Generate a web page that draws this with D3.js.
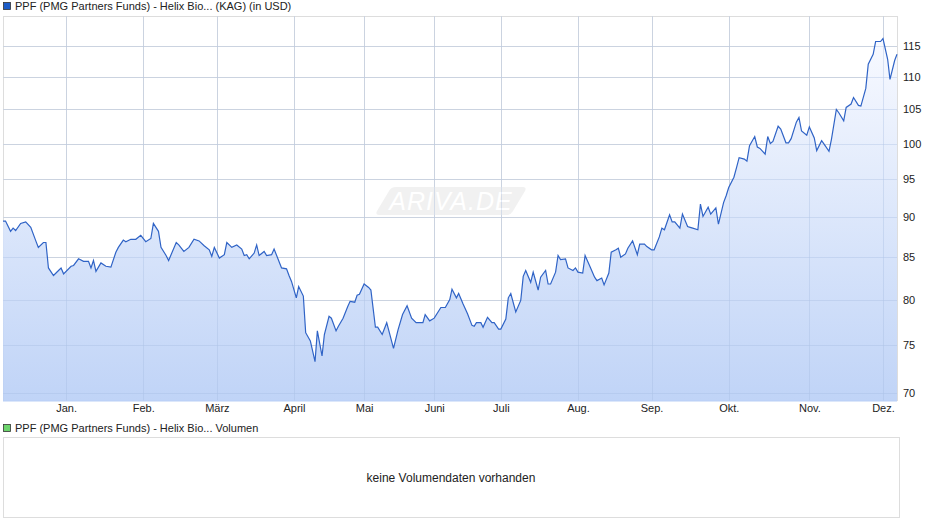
<!DOCTYPE html>
<html><head><meta charset="utf-8">
<script src="https://cdn.jsdelivr.net/npm/d3@7"></script>
<style>body{margin:0;background:#fff}svg{font-family:Arial,"Liberation Sans",sans-serif}</style>
</head><body><svg id="c" width="940" height="526"></svg>
<script>
// day offsets from 2024-01-01 of each price record
const dayOffsets=[-25,-24,-22,-21,-20,-18,-16,-14,-12,-11,-9,-8,-7,-5,-3,-2,-1,
2,3,5,7,9,10,11,12,14,16,18,20,21,23,24,26,28,30,
32,34,35,37,38,40,41,44,45,47,49,51,53,55,57,58,59,
61,63,64,66,68,70,71,72,73,75,76,77,79,80,82,83,86,88,89,90,
92,93,95,96,98,100,101,103,104,106,107,109,110,112,114,115,117,118,119,
121,123,124,126,127,129,131,134,136,138,140,142,144,147,148,150,
152,154,155,157,159,160,162,163,165,167,169,170,171,173,174,176,178,179,181,
182,184,185,186,188,190,191,192,194,195,197,198,200,201,202,204,205,206,208,209,211,212,
213,215,216,218,220,221,223,224,226,227,229,230,231,233,234,236,238,239,241,242,
244,245,247,248,249,251,252,253,255,256,258,259,260,262,263,264,266,267,269,270,272,273,
274,276,277,278,280,281,282,284,285,286,288,289,290,291,293,294,296,297,298,300,301,302,304,
305,307,308,310,311,313,314,316,317,319,320,322,323,325,326,328,329,331,332,334,
335,337,338,340,341];
const prices=[89.5,89.5,88.2,88.6,88.3,89.2,89.4,88.7,87,86.2,86.8,86.8,83.7,82.8,83.4,83.7,83,83.9,84,84.8,84.5,84.5,83.7,84.6,83.3,84.3,83.9,83.8,85.6,86.2,87.1,86.9,87.2,87.2,87.7,86.9,87.3,89.2,88.2,86.2,85.2,84.6,86.8,86.5,85.7,86.2,87.2,87,86.4,85.9,85.1,86.2,84.9,85.3,86.8,86.2,86.5,86,85.2,85.3,84.8,85.5,86.5,85.2,85.7,85.2,85.3,86,83.7,83.6,82.8,82.1,80.2,81.5,80.4,76.3,75.4,73.2,76.5,73.8,76.1,78.1,77.9,76.5,77,77.9,79.2,79.8,79.7,80.5,80.6,81.8,81.4,81.1,76.9,76.9,76.1,77.4,74.6,76.6,78.3,79.3,77.9,77.4,77.4,78.3,77.6,77.9,78.7,79.1,79.1,80,81.2,80.2,80.7,79.5,78.4,77.1,
77,77.4,77.4,76.9,78,77.4,77.4,76.7,76.7,77.8,80.2,80.7,78.6,79.9,82.7,83.4,82,83.2,81.1,82.6,83.4,81.8,81.8,83.2,85.2,84.7,84.8,83.7,83.4,83.7,83.2,83.1,85.2,83.9,82.6,82.2,82.5,81.7,83.1,85.6,85.9,86.1,85,85.4,86.1,87,85.3,86.6,86.6,86.3,85.9,85.9,87.5,88.6,88.4,90.3,89.4,89.4,88.6,90.4,88.8,88.7,88.6,88.4,91.7,90.1,91.3,90.4,91.2,89.1,91.9,92.8,93.9,95.3,96.6,98,97.8,97.5,99.7,101,99.5,99.3,98.5,101,100,100.3,102.5,102.1,100.1,100.1,100.7,103.1,103.8,101.8,101.2,102.4,100.8,99,100.4,99.9,98.9,100.6,105,104.5,103.3,105.3,105.8,106.8,105.6,105.5,108.2,112,113.6,115.7,115.7,116.2,112.8,109.6,112.6,113.6];
// trading records per calendar month shown (Dec 2023 ... Dec 2024) - the chart spaces by records
const recordsPerMonth=[18,22,21,22,20,20,19,22,21,22,23,21,4];
const yTicks=[70,75,80,85,90,95,100,105,110,115];
const monthLabels=["Jan.","Feb.","März","April","Mai","Juni","Juli","Aug.","Sep.","Okt.","Nov.","Dez."];
const title1="PPF (PMG Partners Funds) - Helix Bio... (KAG) (in USD)";
const title2="PPF (PMG Partners Funds) - Helix Bio... Volumen";
const noVol="keine Volumendaten vorhanden";

const base=new Date(2024,0,1);
const n=Math.min(dayOffsets.length,prices.length);
const data=d3.range(n).map(i=>({date:d3.timeDay.offset(base,dayOffsets[i]),v:prices[i]}));
const svg=d3.select("#c");
const L=3,R=897,T=16,B=401;
const monthStarts=d3.timeMonth.range(new Date(2024,0,1),new Date(2024,11,2));
const xDomain=[data[0].date,...monthStarts,data[n-1].date];
const cum=[0];recordsPerMonth.forEach(c=>cum.push(cum[cum.length-1]+c));
const total=cum[cum.length-1];
const x=d3.scaleTime().domain(xDomain).range(cum.map(c=>L+c/total*(R-L)));
const y=d3.scaleLog().domain([69.2,120]).range([B,T]);

const defs=svg.append("defs");
const g=defs.append("linearGradient").attr("id","ag").attr("x1",0).attr("y1",0).attr("x2",0).attr("y2",1);
g.append("stop").attr("offset","0%").attr("stop-color","#f7f9ff");
g.append("stop").attr("offset","100%").attr("stop-color","#b9cff6");

svg.append("line").attr("x1",L).attr("x2",R).attr("y1",T+0.5).attr("y2",T+0.5).attr("stroke","#ddd");
svg.append("line").attr("x1",R+0.5).attr("x2",R+0.5).attr("y1",T).attr("y2",B).attr("stroke","#ddd");
svg.append("line").attr("x1",L+0.5).attr("x2",L+0.5).attr("y1",T).attr("y2",B).attr("stroke","#ddd");
const grid=(stroke,op)=>{
 svg.append("g").selectAll("line").data(monthStarts).join("line")
  .attr("x1",d=>Math.round(x(d))+0.5).attr("x2",d=>Math.round(x(d))+0.5).attr("y1",T).attr("y2",B).attr("stroke",stroke).attr("stroke-opacity",op);
 svg.append("g").selectAll("line").data(yTicks).join("line")
  .attr("x1",L).attr("x2",R).attr("y1",d=>Math.round(y(d))+0.5).attr("y2",d=>Math.round(y(d))+0.5).attr("stroke",stroke).attr("stroke-opacity",op);
};
grid("#ddd",1);

const wm=svg.append("g").attr("transform","translate(451,201)");
wm.append("path").attr("d","M-66,-14 L72,-14 Q76,-14 74,-10 L62,10 Q60,14 55,14 L-72,14 Q-76,14 -74,10 L-62,-10 Q-60,-14 -55,-14 Z").attr("fill","#ededed").attr("opacity",0.8);
wm.append("text").attr("text-anchor","middle").attr("y",9).attr("font-size",25).attr("font-style","italic").attr("fill","#fff").attr("letter-spacing",1).text("ARIVA.DE");

svg.append("path").datum(data).attr("fill","url(#ag)").attr("fill-opacity",0.9)
 .attr("d",d3.area().x(d=>x(d.date)).y0(B).y1(d=>y(d.v)));
grid("#a9bfe6",0.35);
svg.append("line").attr("x1",L).attr("x2",R).attr("y1",B).attr("y2",B).attr("stroke","#b9cff6");
svg.append("path").datum(data).attr("fill","none").attr("stroke","#2f63c6").attr("stroke-width",1.2)
 .attr("d",d3.line().x(d=>x(d.date)).y(d=>y(d.v)));

const ya=svg.append("g").attr("transform",`translate(${R},0)`).call(d3.axisRight(y).tickValues(yTicks).tickSize(0).tickPadding(6).tickFormat(d3.format("d")));
ya.select(".domain").remove();
ya.selectAll("text").attr("font-size",11).attr("fill","#222").attr("font-family","Arial,'Liberation Sans'");
const xa=svg.append("g").attr("transform",`translate(0,${B})`).call(d3.axisBottom(x).tickValues(monthStarts).tickSize(0).tickPadding(3).tickFormat((d,i)=>monthLabels[i]));
xa.select(".domain").remove();
xa.selectAll("text").attr("font-size",11).attr("fill","#222").attr("font-family","Arial,'Liberation Sans'");

svg.append("rect").attr("x",3.5).attr("y",2.5).attr("width",7).attr("height",7).attr("fill","#1c5cc8").attr("stroke","#333").attr("stroke-width",0.8);
svg.append("text").attr("x",15).attr("y",10).attr("font-size",11).attr("fill","#222").text(title1);
svg.append("rect").attr("x",3.5).attr("y",424.5).attr("width",7).attr("height",7).attr("fill","#6cd46c").attr("stroke","#333").attr("stroke-width",0.8);
svg.append("text").attr("x",15).attr("y",432).attr("font-size",11).attr("fill","#222").text(title2);
svg.append("rect").attr("x",3.5).attr("y",437.5).attr("width",896).attr("height",80).attr("fill","none").attr("stroke","#ddd");
svg.append("text").attr("x",451).attr("y",482).attr("text-anchor","middle").attr("font-size",12).attr("fill","#222").text(noVol);
</script></body></html>
